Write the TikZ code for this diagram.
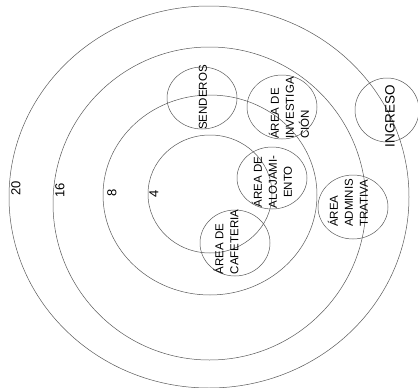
\documentclass[tikz,border=0pt]{standalone}
\usepackage{fontspec}
\setmainfont{Liberation Sans}
\begin{document}
\begin{tikzpicture}[x=1pt, y=-1pt, line width=0.5pt, every node/.style={font=\fontsize{11.5}{15}\selectfont, rotate=90, inner sep=0pt}]
  \useasboundingbox (0,0) rectangle (418,388);
  % rings
  \begin{scope}[draw=black!65]
    \draw (209,197) ellipse (200 and 191);
    \draw (209.5,203.5) ellipse (156.5 and 156.5);
    \draw (210,195) ellipse (107 and 100);
    \draw (210,194) ellipse (62 and 59);
  \end{scope}
  \node[font=\fontsize{13}{15}\selectfont] (r20) at (16,188) {20};
  \node[font=\fontsize{13}{15}\selectfont] (r16) at (60,190) {16};
  \node[font=\fontsize{13}{15}\selectfont] (r8) at (112,193) {8};
  \node[font=\fontsize{13}{15}\selectfont] (r4) at (154,194) {4};
  % zones
  \begin{scope}[draw=black!65]
    \draw (202,98) ellipse (35 and 31);
    \draw (282,107) ellipse (35 and 32);
    \draw (387,110) ellipse (32 and 32);
    \draw (272,178) ellipse (35 and 31);
    \draw (353,207) ellipse (35 and 32);
    \draw (235,243) ellipse (35 and 33);
  \end{scope}
  \node (sen) at (203,97.5) {SENDEROS};
  \node[align=left] (inv) at (289,108) {ÁREA DE\\INVESTIGA\\CIÓN};
  \node[font=\fontsize{13.5}{16}\selectfont] (ing) at (390,116) {INGRESO};
  \node[align=center] (alo) at (272,182) {ÁREA DE\\ALOJAMI-\\ENTO};
  \node[align=left] (adm) at (348,203) {ÁREA\\ADMINIS\\TRATIVA};
  \node[align=left] (caf) at (226,242) {ÁREA DE\\CAFETERIA};
\end{tikzpicture}
\end{document}
